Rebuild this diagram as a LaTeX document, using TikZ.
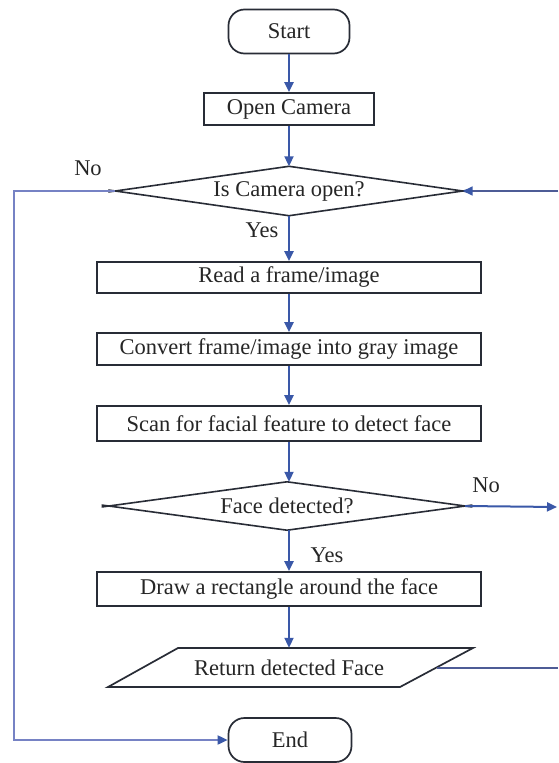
\documentclass[tikz,border=0pt]{standalone}
\usepackage{fontspec}
\setmainfont{Liberation Serif}
\usetikzlibrary{shapes.geometric,arrows.meta,calc}
\definecolor{arrowblue}{RGB}{58,88,168}
\definecolor{loopblue}{RGB}{118,130,196}
\definecolor{boxline}{RGB}{40,44,54}
\definecolor{rightline}{RGB}{78,92,150}
\tikzset{
  txt/.style={font=\fontsize{22.5}{26}\selectfont, text=black!85},
  box/.style={txt, draw=boxline, line width=1.7pt, inner sep=0pt},
  wide/.style={box, minimum width=384pt},
  term/.style={box, rounded corners=16pt, minimum height=44pt},
  decision/.style={txt, diamond, aspect=7.2, inner sep=0pt},
  dedge/.style={draw=boxline, line width=1.6pt},
  tip/.style={-{Triangle[length=10pt,width=9pt,color=arrowblue]}},
  flow/.style={draw=arrowblue, line width=2pt, tip},
  loopline/.style={draw=loopblue, line width=1.8pt},
  rline/.style={draw=rightline, line width=1.6pt}
}
\begin{document}
\begin{tikzpicture}[x=1pt,y=-1pt]
\useasboundingbox[fill=white] (0,0) rectangle (558,763);
% nodes
\node[term, minimum width=121pt] (start) at (289,31.5) {Start};
\node[box, minimum width=170pt, minimum height=32pt] (open) at (289,109) {Open Camera};
\node[decision, minimum width=347pt, minimum height=49pt] (d1) at (289,191) {Is Camera open?};
\node[wide, minimum height=31pt] (read) at (289,277.5) {Read a frame/image};
\node[wide, minimum height=32pt] (conv) at (289,349) {Convert frame/image into gray image};
\node[wide, minimum height=35pt] (scan) at (289,423.5) {Scan for facial feature to detect face};
\node[decision, minimum width=356pt, minimum height=48pt] (d2) at (287,506) {Face detected?};
\node[wide, minimum height=34pt] (drawbox) at (289,589) {Draw a rectangle around the face};
\draw[draw=boxline, line width=1.7pt] (108,687) -- (178,648) -- (473,648) -- (400,687) -- cycle;
\node[txt, minimum width=200pt, minimum height=39pt, inner sep=0pt] (ret) at (289,667.5) {Return detected Face};
\coordinate (retR) at (436.5,668);
\node[term, minimum width=123pt] (end) at (290,740) {End};
% diamond outlines, edges crossing slightly at the side points
\foreach \d in {d1,d2}{
  \draw[dedge] (\d.north) -- ($(\d.north)!1.04!(\d.west)$);
  \draw[dedge] (\d.south) -- ($(\d.south)!1.04!(\d.west)$);
  \draw[dedge] (\d.north) -- ($(\d.north)!1.04!(\d.east)$);
  \draw[dedge] (\d.south) -- ($(\d.south)!1.04!(\d.east)$);
}
% labels
\node[txt] (no1) at (88,168) {No};
\node[txt] (yes1) at (262,230) {Yes};
\node[txt] (no2) at (486,485) {No};
\node[txt] (yes2) at (327,555) {Yes};
% coordinates
\coordinate (lc) at (14,191);
\coordinate (r1) at (558,191);
\coordinate (r2) at (557,507);
\coordinate (r3) at (558,668);
% connectors
\draw[flow] (start.south) -- (open.north);
\draw[flow] (open.south) -- (d1.north);
\draw[flow] (d1.south) -- (read.north);
\draw[flow] (read.south) -- (conv.north);
\draw[flow] (conv.south) -- (scan.north);
\draw[flow] (scan.south) -- (scan.south |- d2.north);
\draw[flow] (d2.south -| drawbox.north) -- (drawbox.north);
\draw[flow] (drawbox.south) -- (ret.north);
\draw[loopline, tip] (d1.west) -- (lc) |- (end.west);
\draw[rline, tip] (r1) -- (d1.east);
\draw[flow] (d2.east) -- (r2);
\draw[rline] (retR) -- (r3);
\end{tikzpicture}
\end{document}
